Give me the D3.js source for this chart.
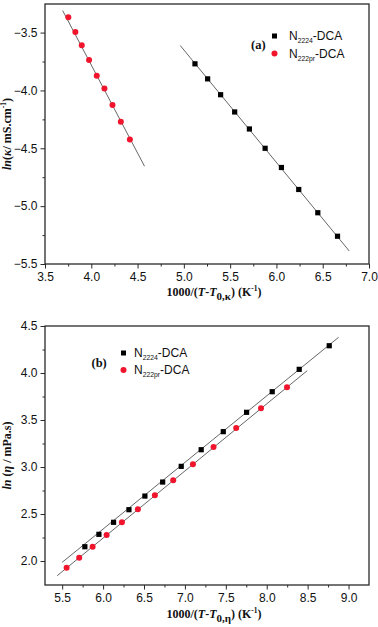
<!DOCTYPE html>
<html><head><meta charset="utf-8">
<script src="https://cdn.jsdelivr.net/npm/d3@7"></script>
<style>body{margin:0;background:#fff}svg{display:block}</style>
</head><body>
<script>
// Panel (a): conductivity
const aXTicks = [3.5, 4.0, 4.5, 5.0, 5.5, 6.0, 6.5, 7.0];
const aYTicks = [-5.5, -5.0, -4.5, -4.0, -3.5];
const aBlackX = [5.12, 5.257, 5.397, 5.549, 5.708, 5.878, 6.054, 6.241, 6.447, 6.66];
const aBlackY = [-3.77, -3.90, -4.037, -4.186, -4.333, -4.50, -4.666, -4.856, -5.057, -5.26];
const aRedX = [3.752, 3.828, 3.897, 3.976, 4.059, 4.142, 4.229, 4.319, 4.417];
const aRedY = [-3.367, -3.494, -3.609, -3.738, -3.873, -3.983, -4.126, -4.27, -4.425];
const aBlackFitX = [4.961, 6.787], aBlackFitY = [-3.612, -5.388];
const aRedFitX = [3.691, 4.575], aRedFitY = [-3.31, -4.655];
// Panel (b): viscosity
const bXTicks = [5.5, 6.0, 6.5, 7.0, 7.5, 8.0, 8.5, 9.0];
const bYTicks = [2.0, 2.5, 3.0, 3.5, 4.0, 4.5];
const bBlackX = [5.777, 5.949, 6.128, 6.316, 6.511, 6.728, 6.955, 7.199, 7.469, 7.754, 8.067, 8.397, 8.764];
const bBlackY = [2.152, 2.284, 2.412, 2.546, 2.691, 2.84, 3.007, 3.184, 3.376, 3.582, 3.801, 4.039, 4.29];
const bRedX = [5.554, 5.708, 5.872, 6.043, 6.23, 6.425, 6.633, 6.857, 7.098, 7.35, 7.627, 7.93, 8.248];
const bRedY = [1.929, 2.035, 2.152, 2.277, 2.412, 2.55, 2.701, 2.86, 3.03, 3.213, 3.415, 3.624, 3.848];
const bBlackFitX = [5.5, 8.879], bBlackFitY = [1.986, 4.38];
const bRedFitX = [5.439, 8.495], bRedFitY = [1.844, 4.025];
const seriesNames = ["2224", "222pr"];

const W = 378, H = 627;
const RED = "#f0142d", AX = "#2a2a2a", FIT = "#555";
const svg = d3.select("body").append("svg").attr("width", W).attr("height", H);

function minorTicks(ticks) {
  const out = [];
  for (let i = 0; i < ticks.length - 1; i++) out.push((ticks[i] + ticks[i + 1]) / 2);
  return out;
}

function panel(o) {
  const x = d3.scaleLinear().domain(o.xDom).range([o.left, o.right]);
  const y = d3.scaleLinear().domain(o.yDom).range([o.bottom, o.top]);
  const g = svg.append("g");
  // minor ticks
  g.append("g").attr("transform", `translate(0,${o.bottom})`)
    .call(d3.axisBottom(x).tickValues(minorTicks(o.xTicks)).tickSize(2.5).tickFormat(""))
    .call(s => s.select(".domain").remove());
  g.append("g").attr("transform", `translate(${o.left},0)`)
    .call(d3.axisLeft(y).tickValues(minorTicks(o.yTicks)).tickSize(2.5).tickFormat(""))
    .call(s => s.select(".domain").remove());
  // major axes
  g.append("g").attr("transform", `translate(0,${o.bottom})`)
    .call(d3.axisBottom(x).tickValues(o.xTicks).tickSize(4.5).tickPadding(4).tickFormat(d3.format(".1f")));
  g.append("g").attr("transform", `translate(${o.left},0)`)
    .call(d3.axisLeft(y).tickValues(o.yTicks).tickSize(4.5).tickPadding(3).tickFormat(d3.format(".1f")));
  g.selectAll(".tick line").attr("stroke", AX).attr("stroke-width", 1);
  g.selectAll(".domain").remove();
  g.selectAll(".tick text").attr("font-family", "'Liberation Sans', Arial, sans-serif")
    .attr("font-size", 12).attr("fill", "#111");
  // frame
  g.append("rect").attr("x", o.left).attr("y", o.top)
    .attr("width", o.right - o.left).attr("height", o.bottom - o.top)
    .attr("fill", "none").attr("stroke", AX).attr("stroke-width", 1.3);
  // fits
  const line = d3.line().x(d => x(d[0])).y(d => y(d[1]));
  o.fits.forEach(f => {
    g.append("path").datum(d3.zip(f[0], f[1])).attr("d", line)
      .attr("fill", "none").attr("stroke", FIT).attr("stroke-width", 0.9);
  });
  // points
  g.append("g").selectAll("rect").data(d3.zip(o.bx, o.by)).join("rect")
    .attr("x", d => x(d[0]) - 2.6).attr("y", d => y(d[1]) - 2.6)
    .attr("width", 5.2).attr("height", 5.2).attr("fill", "#000");
  g.append("g").selectAll("circle").data(d3.zip(o.rx, o.ry)).join("circle")
    .attr("cx", d => x(d[0])).attr("cy", d => y(d[1])).attr("r", 3)
    .attr("fill", RED);
  // legend
  const L = o.legend;
  g.append("text").attr("x", L.lx).attr("y", L.ly).text(o.label)
    .attr("font-family", "'Liberation Serif', 'Times New Roman', serif")
    .attr("font-weight", "bold").attr("font-size", 12.5).attr("fill", "#111");
  [0, 1].forEach(i => {
    const cy = L.y0 + i * L.dy;
    if (i === 0) g.append("rect").attr("x", L.mx - 2.5).attr("y", cy - 2.5).attr("width", 5).attr("height", 5).attr("fill", "#000");
    else g.append("circle").attr("cx", L.mx).attr("cy", cy).attr("r", 3).attr("fill", RED);
    const t = g.append("text").attr("x", L.tx).attr("y", cy + 4.3)
      .attr("font-family", "'Liberation Sans', Arial, sans-serif").attr("font-size", 12).attr("fill", "#111");
    t.append("tspan").text("N");
    t.append("tspan").attr("font-size", 6.8).attr("dy", 3).text(seriesNames[i]);
    t.append("tspan").attr("dy", -3).text("-DCA");
  });
  // x title
  const xt = g.append("text").attr("x", o.xTitleX).attr("y", o.xTitleY).attr("text-anchor", "middle")
    .attr("font-family", "'Liberation Serif', 'Times New Roman', serif")
    .attr("font-weight", "bold").attr("font-size", 12).attr("fill", "#111");
  xt.append("tspan").text("1000/(");
  xt.append("tspan").attr("font-style", "italic").text("T");
  xt.append("tspan").text("-");
  xt.append("tspan").attr("font-style", "italic").text("T");
  xt.append("tspan").attr("dy", 4).attr("font-size", 11).text("0," + o.sym);
  xt.append("tspan").attr("dy", -4).text(") (K");
  xt.append("tspan").attr("dy", -5).attr("font-size", 7.5).text("-1");
  xt.append("tspan").attr("dy", 5).text(")");
  // y title
  const yc = (o.top + o.bottom) / 2;
  const yt = g.append("text").attr("transform", `translate(${o.yTitleX},${yc}) rotate(-90)`)
    .attr("text-anchor", "middle")
    .attr("font-family", "'Liberation Serif', 'Times New Roman', serif")
    .attr("font-weight", "bold").attr("font-size", 12).attr("fill", "#111");
  o.yTitle(yt);
}

panel({
  xDom: [3.5, 7.0], yDom: [-5.5, -3.253], left: 45, right: 369, top: 4, bottom: 264,
  xTicks: aXTicks, yTicks: aYTicks,
  bx: aBlackX, by: aBlackY, rx: aRedX, ry: aRedY,
  fits: [[aBlackFitX, aBlackFitY], [aRedFitX, aRedFitY]],
  label: "(a)", legend: { lx: 251, ly: 49, mx: 274.5, tx: 289, y0: 36, dy: 17.5 },
  xTitleX: 214, xTitleY: 296, sym: "κ", yTitleX: 11,
  yTitle: t => {
    t.append("tspan").attr("font-style", "italic").text("ln");
    t.append("tspan").text("(");
    t.append("tspan").attr("font-style", "italic").text("κ");
    t.append("tspan").text("/ mS.cm");
    t.append("tspan").attr("dy", -5).attr("font-size", 7.5).text("-1");
    t.append("tspan").attr("dy", 5).text(")");
  }
});

panel({
  xDom: [5.29, 9.25], yDom: [1.745, 4.5], left: 45, right: 369, top: 326, bottom: 585,
  xTicks: bXTicks, yTicks: bYTicks,
  bx: bBlackX, by: bBlackY, rx: bRedX, ry: bRedY,
  fits: [[bBlackFitX, bBlackFitY], [bRedFitX, bRedFitY]],
  label: "(b)", legend: { lx: 91.5, ly: 367, mx: 123.5, tx: 134, y0: 353, dy: 17 },
  xTitleX: 214, xTitleY: 618, sym: "η", yTitleX: 11,
  yTitle: t => {
    t.append("tspan").attr("font-style", "italic").text("ln");
    t.append("tspan").text(" (");
    t.append("tspan").attr("font-style", "italic").text("η");
    t.append("tspan").text(" / mPa.s)");
  }
});
</script>
</body></html>
